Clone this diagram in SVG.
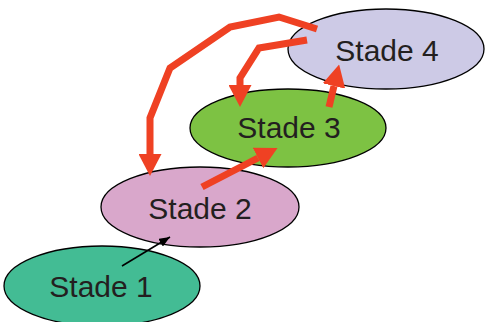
<svg xmlns="http://www.w3.org/2000/svg" width="485" height="322" viewBox="0 0 485 322">
  <style>
    .stage ellipse { stroke: #000; stroke-width: 1.3; }
    .stage text { font-family: "Liberation Sans", Arial, sans-serif; font-size: 30px; fill: #231f20; text-anchor: middle; }
    .flow { fill: none; stroke: #ef4123; stroke-width: 7; stroke-linejoin: miter; }
    .step { fill: none; stroke: #000; stroke-width: 1.6; }
  </style>
  <defs>
    <marker id="redHead" viewBox="0 0 10 10" refX="0" refY="5" markerWidth="22" markerHeight="23" markerUnits="userSpaceOnUse" orient="auto" preserveAspectRatio="none">
      <path d="M0,0 L10,5 L0,10 Z" fill="#ef4123"/>
    </marker>
    <marker id="blackHead" viewBox="0 0 10 10" refX="10" refY="5" markerWidth="11" markerHeight="9" markerUnits="userSpaceOnUse" orient="auto" preserveAspectRatio="none">
      <path d="M0,0 L10,5 L0,10 Z" fill="#000"/>
    </marker>
  </defs>

  <g id="stade4" class="stage">
    <ellipse cx="386" cy="49" rx="98" ry="40" fill="#cdcae6"/>
    <text x="387" y="61">Stade 4</text>
  </g>
  <g id="stade3" class="stage">
    <ellipse cx="288" cy="128" rx="98" ry="39" fill="#7dc243"/>
    <text x="289" y="138">Stade 3</text>
  </g>
  <g id="stade2" class="stage">
    <ellipse cx="200" cy="207" rx="99" ry="40" fill="#d9a7cb"/>
    <text x="200" y="219">Stade 2</text>
  </g>
  <g id="stade1" class="stage">
    <ellipse cx="102" cy="286" rx="98" ry="40" fill="#43bc94"/>
    <text x="101" y="297">Stade 1</text>
  </g>

  <g id="connectors">
    <polyline class="step" points="122,266 170,237" marker-end="url(#blackHead)"/>
    <polyline class="flow" points="202,187 258,158" marker-end="url(#redHead)"/>
    <polyline class="flow" points="329,107 334,86" marker-end="url(#redHead)"/>
    <polyline class="flow" points="307,40 259,48 240,78 240,85" marker-end="url(#redHead)"/>
    <polyline class="flow" points="317,29 279,17 230,27 170,68 150,118 150,154" marker-end="url(#redHead)"/>
  </g>
</svg>
